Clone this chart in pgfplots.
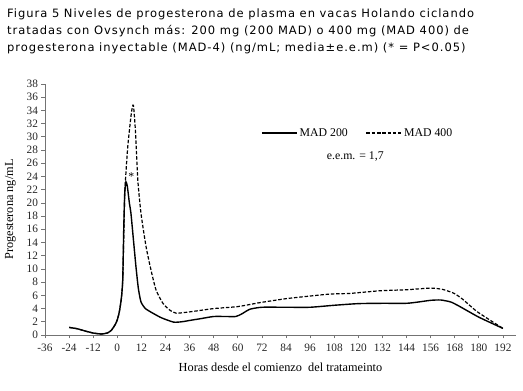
\documentclass[border=0pt]{standalone}
\usepackage{fontspec}
\setmainfont{Liberation Serif}
\newfontfamily\titlefont[LetterSpace=8.5]{DejaVu Sans}
\usepackage{pgfplots}
\pgfplotsset{compat=1.18}
\begin{document}
\begin{tikzpicture}
\path[use as bounding box] (0pt,0pt) rectangle (523pt,391pt);
\node[anchor=north west, align=left, font=\titlefont\fontsize{11.5}{16.7}\selectfont, inner sep=0pt] at (7pt,382pt)
{Figura 5 Niveles de progesterona de plasma en vacas Holando ciclando\\
tratadas con Ovsynch más: 200 mg (200 MAD) o 400 mg (MAD 400) de\\
progesterona inyectable (MAD-4) (ng/mL; media±e.e.m) (* = P<0.05)};
\begin{axis}[
  at={(45pt,56pt)}, anchor=south west,
  scale only axis, width=471pt, height=251pt,
  xmin=-36, xmax=198.5, ymin=0, ymax=38,
  axis x line*=bottom, axis y line*=left,
  axis line style={black!55, line width=0.7pt},
  xtick={-36,-24,...,192}, ytick={0,2,...,38},
  tick style={black!55, line width=0.7pt},
  tick align=outside, major tick length=3.5pt,
  ticklabel style={font=\fontsize{11.3}{12}\selectfont, text=black!85},
  xticklabel style={yshift=-2pt},
  /pgf/number format/assume math mode=true,
  xlabel={Horas desde el comienzo\ \ del tratameinto},
  ylabel={Progesterona ng/mL},
  label style={font=\fontsize{12.3}{13}\selectfont},
  xlabel style={yshift=-4pt},
  ylabel style={yshift=4pt},
  legend columns=2,
  legend style={at={(0.664,0.805)}, anchor=center, draw=none, fill=none,
    font=\fontsize{11.8}{12}\selectfont, /tikz/every even column/.append style={column sep=16pt}},
  legend image code/.code={\draw[#1] (0pt,0pt) -- (35pt,0pt);},
  clip=false,
]
\addplot[black, line width=1.4pt, smooth, tension=0.35] coordinates {
(-24,1.15) (-20,0.95) (-16,0.6) (-12,0.3) (-8,0.15) (-5,0.3) (-3,0.7) (-1,1.6) (0,2.3) (1,3.5) (2,5.5) (2.7,8.3) (3.2,16) (3.7,21.5) (4.3,23.2) (5,22.5) (6,20) (6.8,18.4) (8,14.5) (9.3,10.3) (10.5,7) (11.8,5) (14,4) (17.7,3.3) (22,2.6) (28,1.95) (32,2.0) (36,2.2) (42,2.5) (48,2.8) (54,2.8) (59,2.8) (62,3.2) (66,3.9) (72,4.2) (84,4.2) (96,4.2) (108,4.5) (120,4.75) (132,4.8) (144,4.8) (150,5.0) (156,5.25) (161,5.3) (166,5.0) (170,4.4) (180,2.7) (192,1.0)
};
\addlegendentry{MAD 200}
\addplot[black, line width=1.2pt, dash pattern=on 3.5pt off 1.8pt, smooth, tension=0.35] coordinates {
(-24,1.15) (-20,0.95) (-16,0.6) (-12,0.3) (-8,0.15) (-5,0.3) (-3,0.7) (-1,1.6) (0,2.3) (1,3.5) (2,5.5) (2.7,8.3) (3.3,16) (3.8,22) (5.2,28.5) (7,33.6) (8,34.8) (9,31) (10.2,23.5) (11.8,18.4) (14.3,13.4) (16.8,9.8) (19.3,6.8) (22.7,4.8) (26,3.8) (29.3,3.3) (36,3.5) (48,4.0) (60,4.3) (71,4.9) (84,5.5) (96,5.9) (106,6.2) (116,6.3) (131,6.7) (144,6.85) (156,7.1) (162,6.9) (167.7,6.3) (172,5.4) (179.3,3.5) (192,1.0)
};
\addlegendentry{MAD 400}
\node[font=\fontsize{11.8}{12}\selectfont] at (axis cs:118.5,27) {e.e.m. = 1,7};
\node[font=\fontsize{11.8}{12}\selectfont] at (axis cs:7,24) {*};
\end{axis}
\end{tikzpicture}
\end{document}
